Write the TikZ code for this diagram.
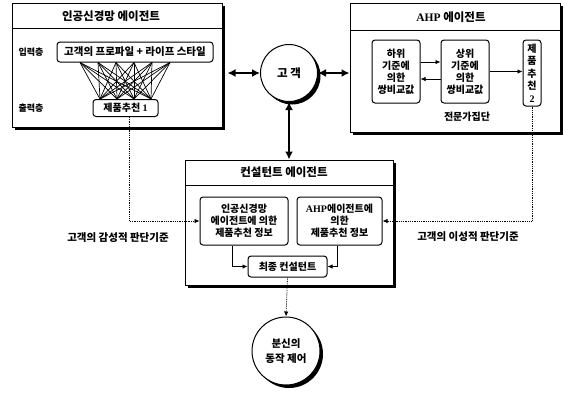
\documentclass[tikz,border=0pt]{standalone}
\usepackage{fontspec}
\setmainfont{Noto Sans CJK KR}
\newfontfamily\serifbf{Liberation Serif}
\usetikzlibrary{shapes,arrows,arrows.meta,shadows}

\begin{document}
\begin{tikzpicture}[x=1pt,y=-1pt,>={Latex[length=5pt,width=4.5pt]},
  shade3/.style={drop shadow={shadow xshift=3pt,shadow yshift=-3pt,fill=black,opacity=1}},
  agent/.style={draw,line width=1pt,fill=white,inner sep=0pt,shade3},
  ibox/.style={draw,rounded corners=3pt,line width=1pt,fill=white,inner sep=0pt,align=center,
    font=\fontsize{10}{12}\selectfont\bfseries},
  ttl/.style={font=\fontsize{11.5}{12}\selectfont\bfseries},
  lbl/.style={font=\fontsize{10.5}{12}\selectfont\bfseries},
  dbl/.style={{Latex[length=8pt,width=8pt]}-{Latex[length=8pt,width=8pt]},line width=1.8pt},
  dots/.style={densely dotted,line width=0.8pt}]
\useasboundingbox (0,0) rectangle (564,392);

% 인공신경망 에이전트
\node[agent,minimum width=210pt,minimum height=124pt] (ann) at (117,65) {};
\draw[line width=0.8pt] (ann.west |- 0,28) -- (ann.east |- 0,28);
\node[ttl] (anntitle) at (111,16) {인공신경망 에이전트};
\node[lbl,font=\fontsize{9}{10}\selectfont\bfseries] (inlayer) at (31,52) {입력층};
\node[lbl,font=\fontsize{9}{10}\selectfont\bfseries] (outlayer) at (31,108) {출력층};
\node[ibox,minimum width=156pt,minimum height=20pt,font=\fontsize{10.5}{12}\selectfont\bfseries] (inp) at (135,52) {고객의 프로파일 + 라이프 스타일};
\node[ibox,minimum width=65pt,minimum height=17pt] (outp) at (125.5,108) {제품추천 {\serifbf 1}};
\foreach \a in {80,98,...,170}
  \foreach \b in {100,117,134,151}
    \draw[line width=0.7pt] (inp.south -| \a,0) -- (outp.north -| \b,0);

% 고객
\node[circle,draw,line width=1pt,fill=white,minimum size=57pt,inner sep=0pt,shade3,
  font=\fontsize{11.5}{12}\selectfont\bfseries] (cust) at (289,73) {고 객};

% AHP 에이전트
\node[agent,minimum width=210pt,minimum height=129pt] (ahp) at (455,67.5) {};
\draw[line width=0.8pt] (ahp.west |- 0,30) -- (ahp.east |- 0,30);
\node[ttl] (ahptitle) at (451,17) {{\serifbf AHP} 에이전트};
\node[ibox,minimum width=48pt,minimum height=63pt] (low) at (396,71.5) {하위\\기준에\\의한\\쌍비교값};
\node[ibox,minimum width=48pt,minimum height=63pt] (high) at (465,71.5) {상위\\기준에\\의한\\쌍비교값};
\node[ibox,minimum width=18pt,minimum height=66pt,font=\fontsize{10}{12.5}\selectfont\bfseries] (rec2) at (532,73) {제\\품\\추\\천\\{\serifbf 2}};
\node[lbl,font=\fontsize{10}{11}\selectfont\bfseries] (expert) at (467,117) {전문가집단};
\draw[->,line width=0.8pt] (low.east |- 0,62) -- (high.west |- 0,62);
\draw[->,line width=0.8pt] (high.west |- 0,79) -- (low.east |- 0,79);
\draw[->,line width=0.8pt] (high.east) -- (high.east -| rec2.west);

% 컨설턴트 에이전트
\node[agent,minimum width=208pt,minimum height=125pt] (cons) at (289,222.5) {};
\draw[line width=0.8pt] (cons.west |- 0,185) -- (cons.east |- 0,185);
\node[ttl] (constitle) at (284,172) {컨설턴트 에이전트};
\node[ibox,minimum width=88pt,minimum height=48pt] (nninfo) at (244,221) {인공신경망\\에이전트에 의한\\제품추천 정보};
\node[ibox,minimum width=85pt,minimum height=48pt] (ahpinfo) at (339.5,221) {{\serifbf AHP}에이전트에\\의한\\제품추천 정보};
\node[ibox,minimum width=79pt,minimum height=21pt] (final) at (287.5,266.5) {최종 컨설턴트};
\draw[->,line width=0.8pt] ([xshift=-12pt]nninfo.south) |- (final.west);
\draw[->,line width=0.8pt] ([xshift=-2pt]ahpinfo.south) |- (final.east);

% 분신
\node[circle,draw,line width=1pt,fill=white,minimum size=68pt,inner sep=0pt,shade3,align=center,
  font=\fontsize{10.5}{15}\selectfont\bfseries] (ctrl) at (286,351) {분신의\\동작 제어};

% 연결
\draw[dbl] ([xshift=5pt]ann.east |- cust.west) -- (cust.west);
\draw[dbl] (cust.east) -- (ahp.west |- cust.east);
\draw[dbl] (cust.south) -- (cust.south |- cons.north);
\draw[dots,->] ([xshift=4pt]outp.south) |- (nninfo.west);
\draw[dots,->] (rec2.south) |- (ahpinfo.east);
\draw[dots,->] (final.south) -- (ctrl.north);
\node[lbl] (emo) at (118,238) {고객의 감성적 판단기준};
\node[lbl] (rat) at (468,237) {고객의 이성적 판단기준};
\end{tikzpicture}
\end{document}
